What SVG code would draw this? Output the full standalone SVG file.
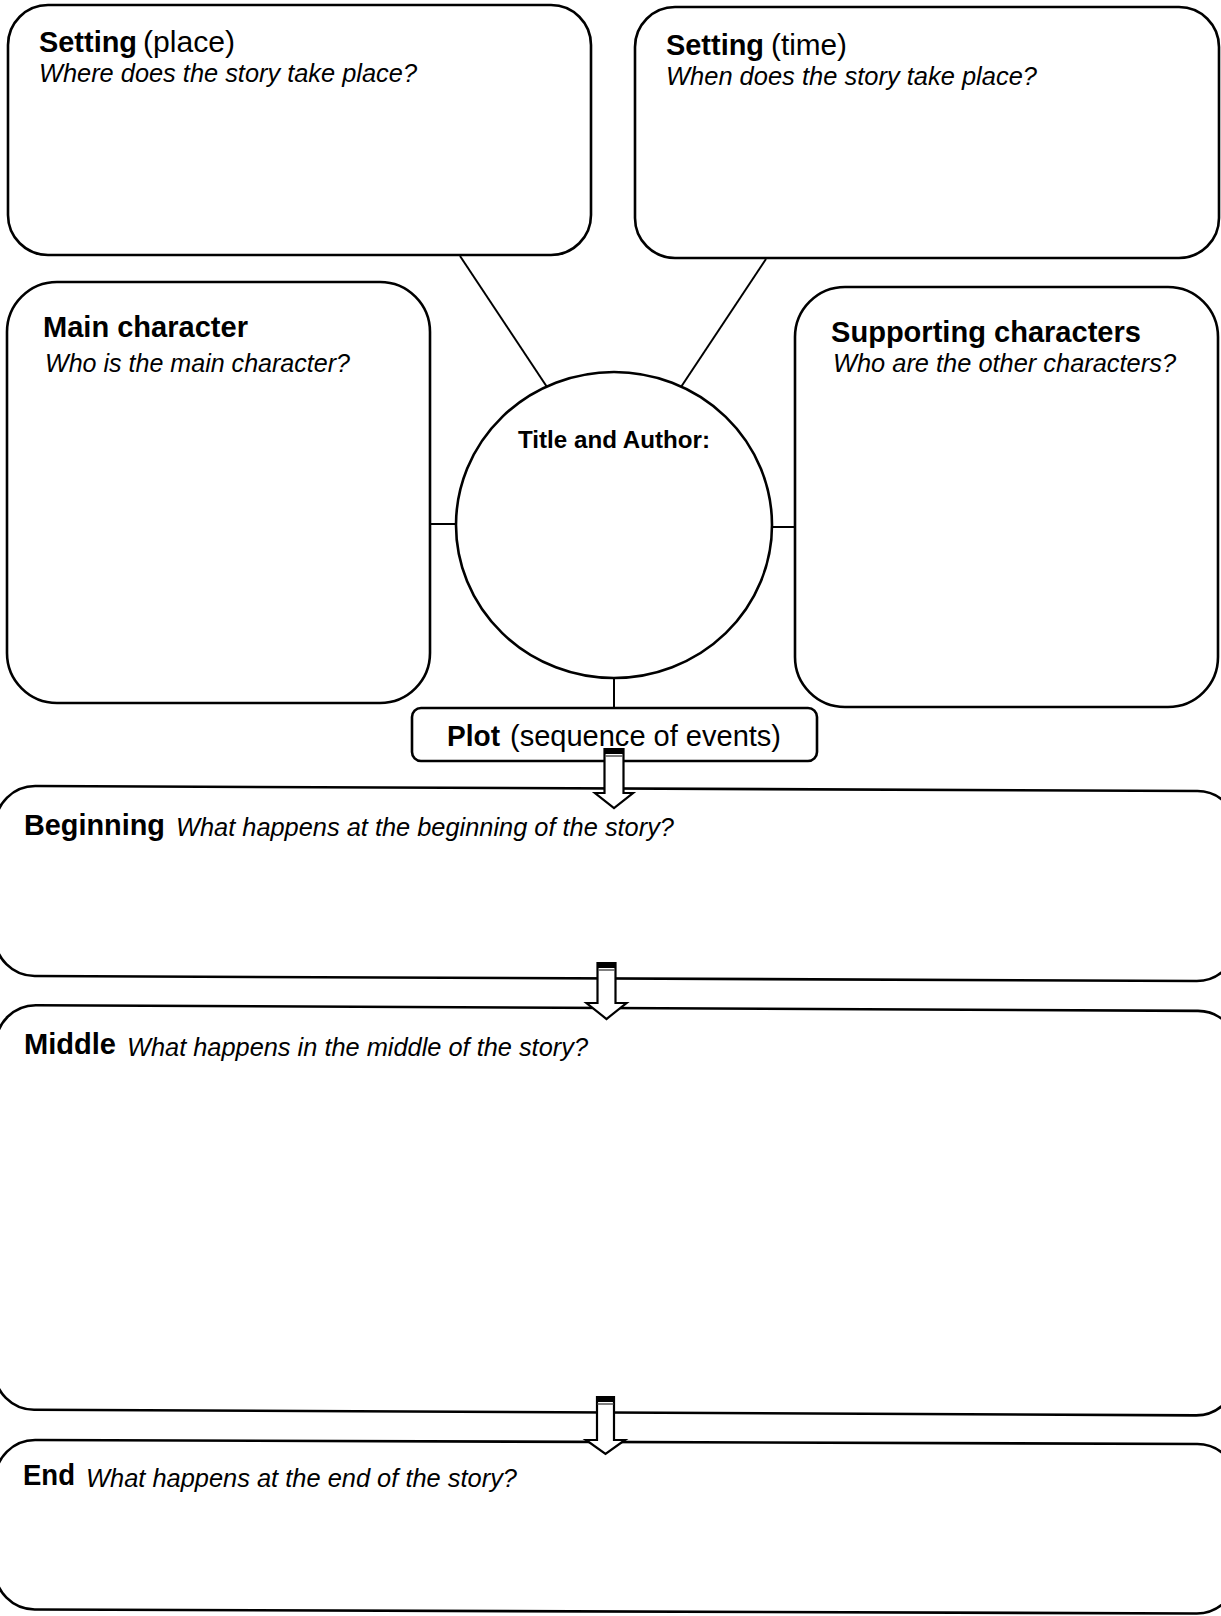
<svg xmlns="http://www.w3.org/2000/svg" width="1221" height="1616" viewBox="0 0 1221 1616">
<style>
  .box{fill:none;stroke:#000;stroke-width:2.6}
  .con{fill:none;stroke:#000;stroke-width:2}
  .arrow{fill:#fff;stroke:#000;stroke-width:2.2;stroke-linejoin:miter}
  text{font-family:"Liberation Sans",Arial,Helvetica,sans-serif;fill:#000}
  .h{font-weight:bold;font-size:29px}
  .r{font-size:29px}
  .q{font-style:italic;font-size:25px}
  .t{font-weight:bold;font-size:24px}
</style>
<rect width="1221" height="1616" fill="#fff"/>

<g id="connectors">
  <line class="con" x1="460" y1="256" x2="547" y2="387"/>
  <line class="con" x1="766" y1="259" x2="681" y2="387"/>
  <line class="con" x1="430" y1="524" x2="456" y2="524"/>
  <line class="con" x1="772" y1="527" x2="796" y2="527"/>
  <line class="con" x1="614" y1="678" x2="614" y2="708"/>
</g>

<g id="setting-place">
  <rect class="box" x="8" y="5" width="583" height="250" rx="40"/>
  <text class="h" x="39" y="52" textLength="98" lengthAdjust="spacingAndGlyphs">Setting</text>
  <text class="r" x="143" y="52" textLength="92" lengthAdjust="spacingAndGlyphs">(place)</text>
  <text class="q" x="39" y="82" textLength="378" lengthAdjust="spacingAndGlyphs">Where does the story take place?</text>
</g>

<g id="setting-time">
  <rect class="box" x="635" y="7" width="584" height="251" rx="40"/>
  <text class="h" x="666" y="55" textLength="98" lengthAdjust="spacingAndGlyphs">Setting</text>
  <text class="r" x="771" y="55" textLength="76" lengthAdjust="spacingAndGlyphs">(time)</text>
  <text class="q" x="666" y="85" textLength="371" lengthAdjust="spacingAndGlyphs">When does the story take place?</text>
</g>

<g id="main-character">
  <rect class="box" x="7" y="282" width="423" height="421" rx="50"/>
  <text class="h" x="43" y="337" textLength="205" lengthAdjust="spacingAndGlyphs">Main character</text>
  <text class="q" x="45" y="372" textLength="305" lengthAdjust="spacingAndGlyphs">Who is the main character?</text>
</g>

<g id="supporting-characters">
  <rect class="box" x="795" y="287" width="423" height="420" rx="50"/>
  <text class="h" x="831" y="342" textLength="310" lengthAdjust="spacingAndGlyphs">Supporting characters</text>
  <text class="q" x="833" y="372" textLength="343" lengthAdjust="spacingAndGlyphs">Who are the other characters?</text>
</g>

<g id="title-author">
  <ellipse class="box" cx="614" cy="525" rx="158" ry="153"/>
  <text class="t" x="518" y="448" textLength="192" lengthAdjust="spacingAndGlyphs">Title and Author:</text>
</g>

<g id="plot">
  <rect class="box" x="412" y="708" width="405" height="53" rx="9"/>
  <text class="h" x="447" y="746" textLength="53" lengthAdjust="spacingAndGlyphs">Plot</text>
  <text class="r" x="510" y="746" textLength="271" lengthAdjust="spacingAndGlyphs">(sequence of events)</text>
</g>

<g id="beginning">
  <rect class="box" x="-5" y="788.5" width="1242" height="190" rx="40" transform="rotate(0.25 610 883)"/>
  <text class="h" x="24" y="835" textLength="141" lengthAdjust="spacingAndGlyphs">Beginning</text>
  <text class="q" x="176" y="836" textLength="498" lengthAdjust="spacingAndGlyphs">What happens at the beginning of the story?</text>
</g>

<g id="middle">
  <rect class="box" x="-5" y="1008" width="1242" height="404.5" rx="40" transform="rotate(0.28 610 1210)"/>
  <text class="h" x="24" y="1054" textLength="92" lengthAdjust="spacingAndGlyphs">Middle</text>
  <text class="q" x="127" y="1056" textLength="461" lengthAdjust="spacingAndGlyphs">What happens in the middle of the story?</text>
</g>

<g id="end">
  <rect class="box" x="-5" y="1442" width="1242" height="169.5" rx="40" transform="rotate(0.2 610 1527)"/>
  <text class="h" x="23" y="1485" textLength="52" lengthAdjust="spacingAndGlyphs">End</text>
  <text class="q" x="86" y="1487" textLength="431" lengthAdjust="spacingAndGlyphs">What happens at the end of the story?</text>
</g>

<g id="arrows">
  <g id="arrow-1">
    <polygon class="arrow" points="604.5,749 623.5,749 623.5,793 633,793 614,808 595,793 604.5,793"/>
    <rect x="604.5" y="749" width="19" height="5" fill="#000"/>
    <line x1="605" y1="756" x2="623" y2="756" stroke="#555" stroke-width="1.5"/>
  </g>
  <g id="arrow-2">
    <polygon class="arrow" points="597.5,963 615.5,963 615.5,1003 626.5,1003 606.5,1019 586.5,1003 597.5,1003"/>
    <rect x="597.5" y="963" width="18" height="5" fill="#000"/>
    <line x1="598" y1="970" x2="615" y2="970" stroke="#555" stroke-width="1.5"/>
  </g>
  <g id="arrow-3">
    <polygon class="arrow" points="597,1397 614,1397 614,1440 625,1440 605.5,1454 586,1440 597,1440"/>
    <rect x="597" y="1397" width="17" height="5" fill="#000"/>
    <line x1="597.5" y1="1404" x2="613.5" y2="1404" stroke="#555" stroke-width="1.5"/>
  </g>
</g>
</svg>
